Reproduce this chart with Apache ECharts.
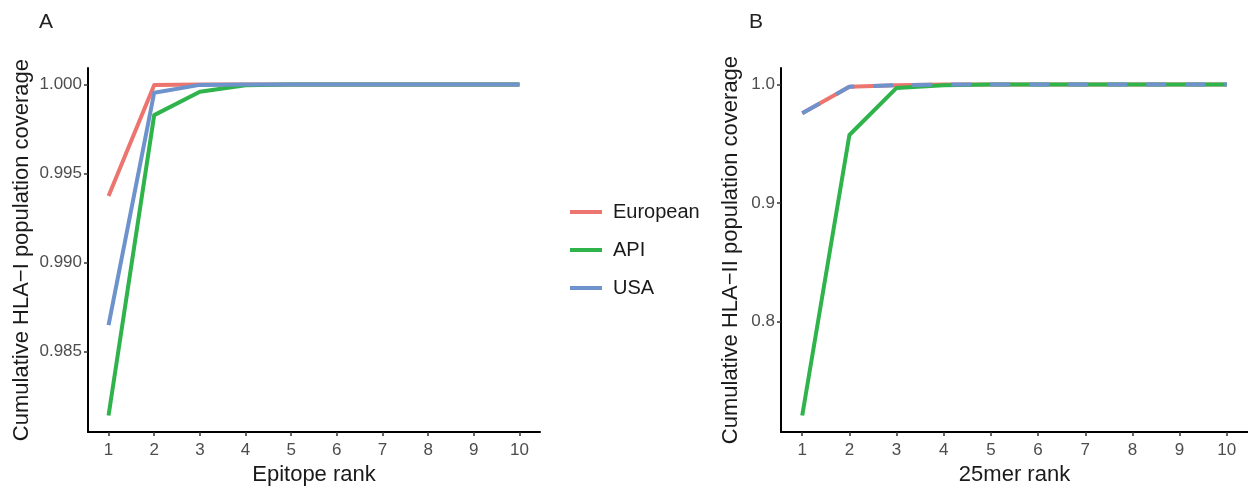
<!DOCTYPE html>
<html>
<head>
<meta charset="utf-8">
<script src="https://cdn.jsdelivr.net/npm/echarts@6/dist/echarts.min.js"></script>
<style>
  html, body { margin: 0; padding: 0; background: #fff; }
  #chart { width: 1248px; height: 491px; }
</style>
</head>
<body>
<div id="chart"></div>
<script>
// ranks on the x axis
const ranks = [1, 2, 3, 4, 5, 6, 7, 8, 9, 10]

// panel A: HLA-I coverage by epitope rank
const europeanI = [0.99374, 0.99997, 1.0, 1.0, 1.0, 1.0, 1.0, 1.0, 1.0, 1.0]
const apiI = [0.98139, 0.99828, 0.99960, 0.99996, 1.0, 1.0, 1.0, 1.0, 1.0, 1.0]
const usaI = [0.98648, 0.99954, 0.99998, 1.0, 1.0, 1.0, 1.0, 1.0, 1.0, 1.0]

// panel B: HLA-II coverage by 25mer rank
const europeanII = [0.9758, 0.9982, 0.9995, 1.0, 1.0, 1.0, 1.0, 1.0, 1.0, 1.0]
const apiII = [0.7208, 0.9575, 0.9972, 0.9995, 1.0, 1.0, 1.0, 1.0, 1.0, 1.0]
const usaII = [0.9758, 0.9982, 0.9996, 1.0, 1.0, 1.0, 1.0, 1.0, 1.0, 1.0]

const ticksA = [0.985, 0.990, 0.995, 1.000]
const ticksB = [0.8, 0.9, 1.0]

const RED = '#ec756f'
const GREEN = '#2fb34b'
const BLUE = '#6d92cc'

const pairs = (ys) => ranks.map((r, i) => [r, ys[i]])

const chart = echarts.init(document.getElementById('chart'))

const axisText = { color: '#4d4d4d', fontSize: 17, fontFamily: 'Liberation Sans' }
const nameText = { color: '#1a1a1a', fontSize: 22, fontFamily: 'Liberation Sans' }

const xAxisBase = (gridIndex, name) => ({
  type: 'value',
  gridIndex,
  min: 0.55,
  max: 10.45,
  name,
  nameLocation: 'middle',
  nameGap: 30,
  nameTextStyle: nameText,
  splitLine: { show: false },
  axisLine: { lineStyle: { color: '#000', width: 2 } },
  axisTick: { length: 4, lineStyle: { color: '#333', width: 1.5 }, customValues: ranks },
  axisLabel: { ...axisText, margin: 10, customValues: ranks }
})

const yAxisBase = (gridIndex, name, min, max, ticks, digits, gap) => ({
  type: 'value',
  gridIndex,
  min,
  max,
  name,
  nameLocation: 'middle',
  nameGap: gap,
  nameTextStyle: nameText,
  splitLine: { show: false },
  axisLine: { show: true, lineStyle: { color: '#000', width: 2 } },
  axisTick: { show: true, length: 4, lineStyle: { color: '#333', width: 1.5 }, customValues: ticks },
  axisLabel: { ...axisText, margin: 6, customValues: ticks, formatter: (v) => v.toFixed(digits) }
})

const line = (name, data, color, xi, dashed) => ({
  name,
  type: 'line',
  xAxisIndex: xi,
  yAxisIndex: xi,
  data: pairs(data),
  showSymbol: false,
  symbol: 'none',
  lineStyle: { color, width: 4, cap: 'butt', join: 'round', type: dashed ? [20, 19] : 'solid' },
  itemStyle: { color },
  emphasis: { disabled: true }
})

const titleText = { fontSize: 21, fontWeight: 'normal', color: '#222', fontFamily: 'Liberation Sans' }

chart.setOption({
  animation: false,
  title: [
    { text: 'A', left: 34, top: 7, textStyle: titleText },
    { text: 'B', left: 744, top: 7, textStyle: titleText }
  ],
  legend: {
    orient: 'vertical',
    left: 565,
    top: 197,
    itemWidth: 32,
    itemHeight: 4,
    itemGap: 18,
    icon: 'rect',
    data: ['European', 'API', 'USA'],
    textStyle: { fontSize: 20, color: '#1a1a1a', fontFamily: 'Liberation Sans', padding: [0, 0, 0, 6] }
  },
  grid: [
    { left: 88, top: 68, width: 452, height: 368 },
    { left: 781, top: 68, width: 468, height: 368 }
  ],
  xAxis: [xAxisBase(0, 'Epitope rank'), xAxisBase(1, '25mer rank')],
  yAxis: [
    yAxisBase(0, 'Cumulative HLA\u2212I population coverage', 0.98046, 1.00093, ticksA, 3, 55),
    yAxisBase(1, 'Cumulative HLA\u2212II population coverage', 0.7068, 1.014, ticksB, 1, 39)
  ],
  series: [
    line('European', europeanI, RED, 0),
    line('API', apiI, GREEN, 0),
    line('USA', usaI, BLUE, 0),
    line('European', europeanII, RED, 1),
    line('API', apiII, GREEN, 1),
    line('USA', usaII, BLUE, 1, true)
  ]
})
</script>
</body>
</html>
